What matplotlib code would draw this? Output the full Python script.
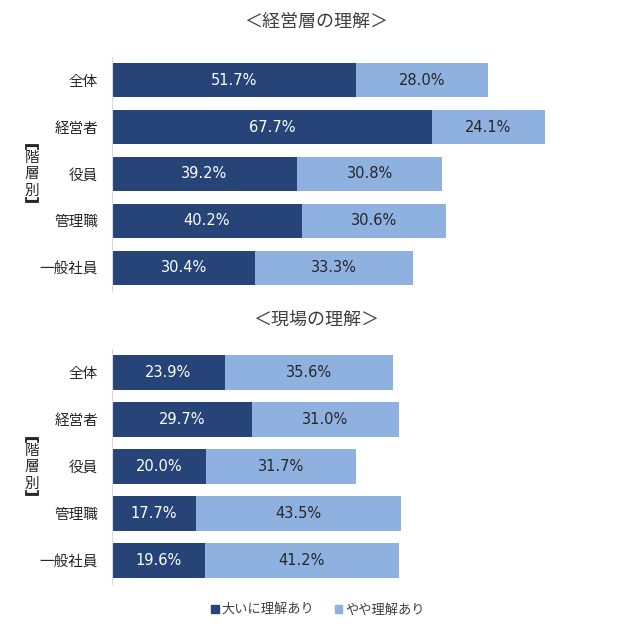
import matplotlib
matplotlib.use("Agg")
import matplotlib.pyplot as plt
from matplotlib.patches import Patch
from matplotlib.lines import Line2D

plt.rcParams['font.family'] = ['Noto Sans CJK JP', 'DejaVu Sans']

categories = ["全体", "経営者", "役員", "管理職", "一般社員"]
top_strong = [51.7, 67.7, 39.2, 40.2, 30.4]
top_some = [28.0, 24.1, 30.8, 30.6, 33.3]
bot_strong = [23.9, 29.7, 20.0, 17.7, 19.6]
bot_some = [35.6, 31.0, 31.7, 43.5, 41.2]
titles = ["＜経営層の理解＞", "＜現場の理解＞"]
legend_labels = ["大いに理解あり", "やや理解あり"]
side_label = "階層別"

dark = "#264478"
light = "#8FB1E0"
txt = '#262626'

W, H = 628, 636
fig = plt.figure(figsize=(W / 100, H / 100), dpi=100)

def make_ax(top_px, bottom_px):
    return fig.add_axes([112 / W, 1 - bottom_px / H, 472 / W, (bottom_px - top_px) / H])

axes = [make_ax(57, 291), make_ax(349, 584)]
data = [(top_strong, top_some), (bot_strong, bot_some)]

numfont = ['DejaVu Sans']
for ax, (s, m) in zip(axes, data):
    y = list(range(len(categories)))
    ax.barh(y, s, height=0.73, color=dark)
    ax.barh(y, m, left=s, height=0.73, color=light)
    for i in y:
        ax.text(s[i] / 2, i, f"{s[i]:.1f}%", ha='center', va='center', color='white',
                fontsize=10.5, family=numfont)
        ax.text(s[i] + m[i] / 2, i, f"{m[i]:.1f}%", ha='center', va='center', color=txt,
                fontsize=10.5, family=numfont)
    ax.set_xlim(0, 100)
    ax.set_ylim(len(categories) - 0.5, -0.5)
    ax.set_yticks(y)
    ax.set_yticklabels(categories, fontsize=10.5, color=txt)
    ax.tick_params(axis='y', length=0, pad=10)
    ax.set_xticks([])
    for sp in ['top', 'right', 'bottom']:
        ax.spines[sp].set_visible(False)
    ax.spines['left'].set_color('#D9D9D9')
    ax.patch.set_alpha(0)

fig.text(316 / W, 1 - 22 / H, titles[0], ha='center', va='center', fontsize=13, color='#404040')
fig.text(316 / W, 1 - 320 / H, titles[1], ha='center', va='center', fontsize=13, color='#404040')

def fx(px):
    return px / W

def fy(py):
    return 1 - py / H

for yc in [174, 467]:
    xc = 32
    for k, ch in enumerate(side_label):
        fig.text(fx(xc), fy(yc + (k - 1) * 16.5), ch, ha='center', va='center', fontsize=10.5,
                 color=txt)
    # top bracket (opening downward)
    yt = yc - 29
    fig.add_artist(Line2D([fx(xc - 6), fx(xc - 6), fx(xc + 6), fx(xc + 6)],
                          [fy(yt + 4), fy(yt), fy(yt), fy(yt + 4)],
                          transform=fig.transFigure, color=txt, lw=1.3, solid_joinstyle='miter'))
    fig.add_artist(Line2D([fx(xc - 5), fx(xc + 5)], [fy(yt + 1), fy(yt + 1)],
                          transform=fig.transFigure, color=txt, lw=1.6))
    # bottom bracket (opening upward)
    yb = yc + 28
    fig.add_artist(Line2D([fx(xc - 6), fx(xc - 6), fx(xc + 6), fx(xc + 6)],
                          [fy(yb - 4), fy(yb), fy(yb), fy(yb - 4)],
                          transform=fig.transFigure, color=txt, lw=1.3, solid_joinstyle='miter'))
    fig.add_artist(Line2D([fx(xc - 5), fx(xc + 5)], [fy(yb - 1), fy(yb - 1)],
                          transform=fig.transFigure, color=txt, lw=1.6))

handles = [Patch(color=dark), Patch(color=light)]
fig.legend(handles, legend_labels, loc='center', bbox_to_anchor=(318 / W, 1 - 610 / H), ncol=2,
           frameon=False, fontsize=9.5, handlelength=0.6, handleheight=0.6, handletextpad=0.2,
           columnspacing=1.5, labelcolor='#404040')

fig.savefig("out.png", dpi=100)
